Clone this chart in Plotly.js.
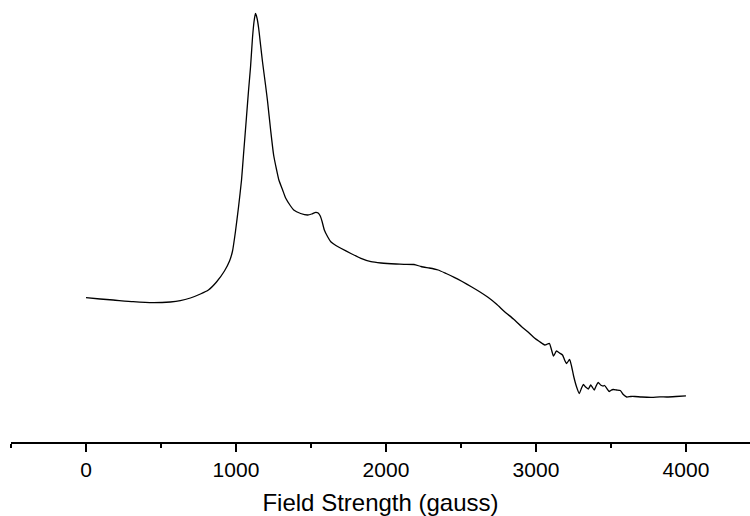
<!DOCTYPE html>
<html>
<head>
<meta charset="utf-8">
<script src="https://cdn.plot.ly/plotly-3.0.1.min.js"></script>
<style>html,body{margin:0;padding:0;background:#fff;}#chart{width:750px;height:516px;}</style>
</head>
<body>
<div id="chart"></div>
<script>
// Field strength (gauss)
const fieldGauss = [0, 94, 181, 314, 448, 562, 629, 696, 763, 816, 870, 923, 957, 977, 997, 1017, 1037, 1050, 1070, 1084, 1097, 1110, 1120, 1130, 1140, 1151, 1164, 1177, 1197, 1211, 1231, 1251, 1271, 1286, 1311, 1331, 1364, 1385, 1431, 1478, 1505, 1532, 1548, 1562, 1575, 1589, 1612, 1632, 1666, 1699, 1766, 1833, 1900, 1967, 2067, 2120, 2187, 2234, 2288, 2321, 2348, 2401, 2455, 2508, 2569, 2622, 2680, 2736, 2791, 2850, 2903, 2943, 2990, 3023, 3059, 3077, 3090, 3104, 3117, 3137, 3157, 3177, 3191, 3204, 3224, 3237, 3251, 3271, 3289, 3304, 3316, 3331, 3349, 3365, 3375, 3389, 3401, 3415, 3431, 3448, 3458, 3472, 3488, 3498, 3515, 3538, 3562, 3582, 3605, 3632, 3659, 3706, 3773, 3826, 3873, 3933, 4000];
// Signal intensity (arbitrary units)
const signal = [144.3, 143, 142, 140.3, 139.3, 140, 141.3, 144, 148, 152, 160, 171, 181, 191, 211, 235, 262, 287, 325, 352, 375, 404, 420, 428.5, 424, 414, 397, 380, 357, 340, 312, 287, 272, 262, 252, 244, 236, 232, 228.5, 227, 228, 229.7, 229, 226, 220, 212, 205, 200.3, 196.5, 193.7, 188.5, 183.7, 180.3, 179, 178, 177.7, 177.5, 175.5, 174, 173, 172, 168.5, 164.7, 160.5, 155.3, 150.5, 144.7, 138, 130.3, 123, 115.5, 110.5, 104, 100.5, 97, 98, 98.5, 92, 86, 91, 89, 87, 82, 78.5, 82.5, 76, 66, 55, 48.5, 54, 57.5, 55, 53, 57, 55, 52, 56, 59.5, 57, 56, 56.5, 53.7, 50.5, 51.5, 52.5, 52, 51.5, 47.5, 45, 45.5, 45.5, 45, 44.7, 45.2, 45, 45.5, 46.2];
const xTickVals = [0, 1000, 2000, 3000, 4000];
const xTickText = ['0', '1000', '2000', '3000', '4000'];

const trace = {
  x: fieldGauss,
  y: signal,
  type: 'scatter',
  mode: 'lines',
  line: {color: '#000', width: 1.3, shape: 'spline', smoothing: 0.5},
  hoverinfo: 'skip'
};

const layout = {
  width: 750,
  height: 516,
  margin: {l: 11, r: 0, t: 0, b: 74},
  paper_bgcolor: '#fff',
  plot_bgcolor: '#fff',
  showlegend: false,
  font: {family: 'Liberation Sans, Arial, sans-serif', color: '#000'},
  xaxis: {
    range: [-500, 4427],
    tickmode: 'array',
    tickvals: xTickVals,
    ticktext: xTickText,
    ticks: 'outside',
    ticklen: 8,
    tickwidth: 2,
    tickcolor: '#000',
    showline: true,
    linewidth: 2,
    linecolor: '#000',
    showgrid: false,
    zeroline: false,
    tickfont: {size: 21, color: '#000'},
    minor: {dtick: 500, tick0: 0, ticks: 'outside', ticklen: 4, tickwidth: 2, tickcolor: '#000', showgrid: false},
    title: {text: 'Field Strength (gauss)', font: {size: 24, color: '#000'}, standoff: 14}
  },
  yaxis: {
    range: [0, 442],
    visible: false,
    showgrid: false,
    zeroline: false
  }
};

Plotly.newPlot('chart', [trace], layout, {staticPlot: true, displayModeBar: false});
</script>
</body>
</html>
